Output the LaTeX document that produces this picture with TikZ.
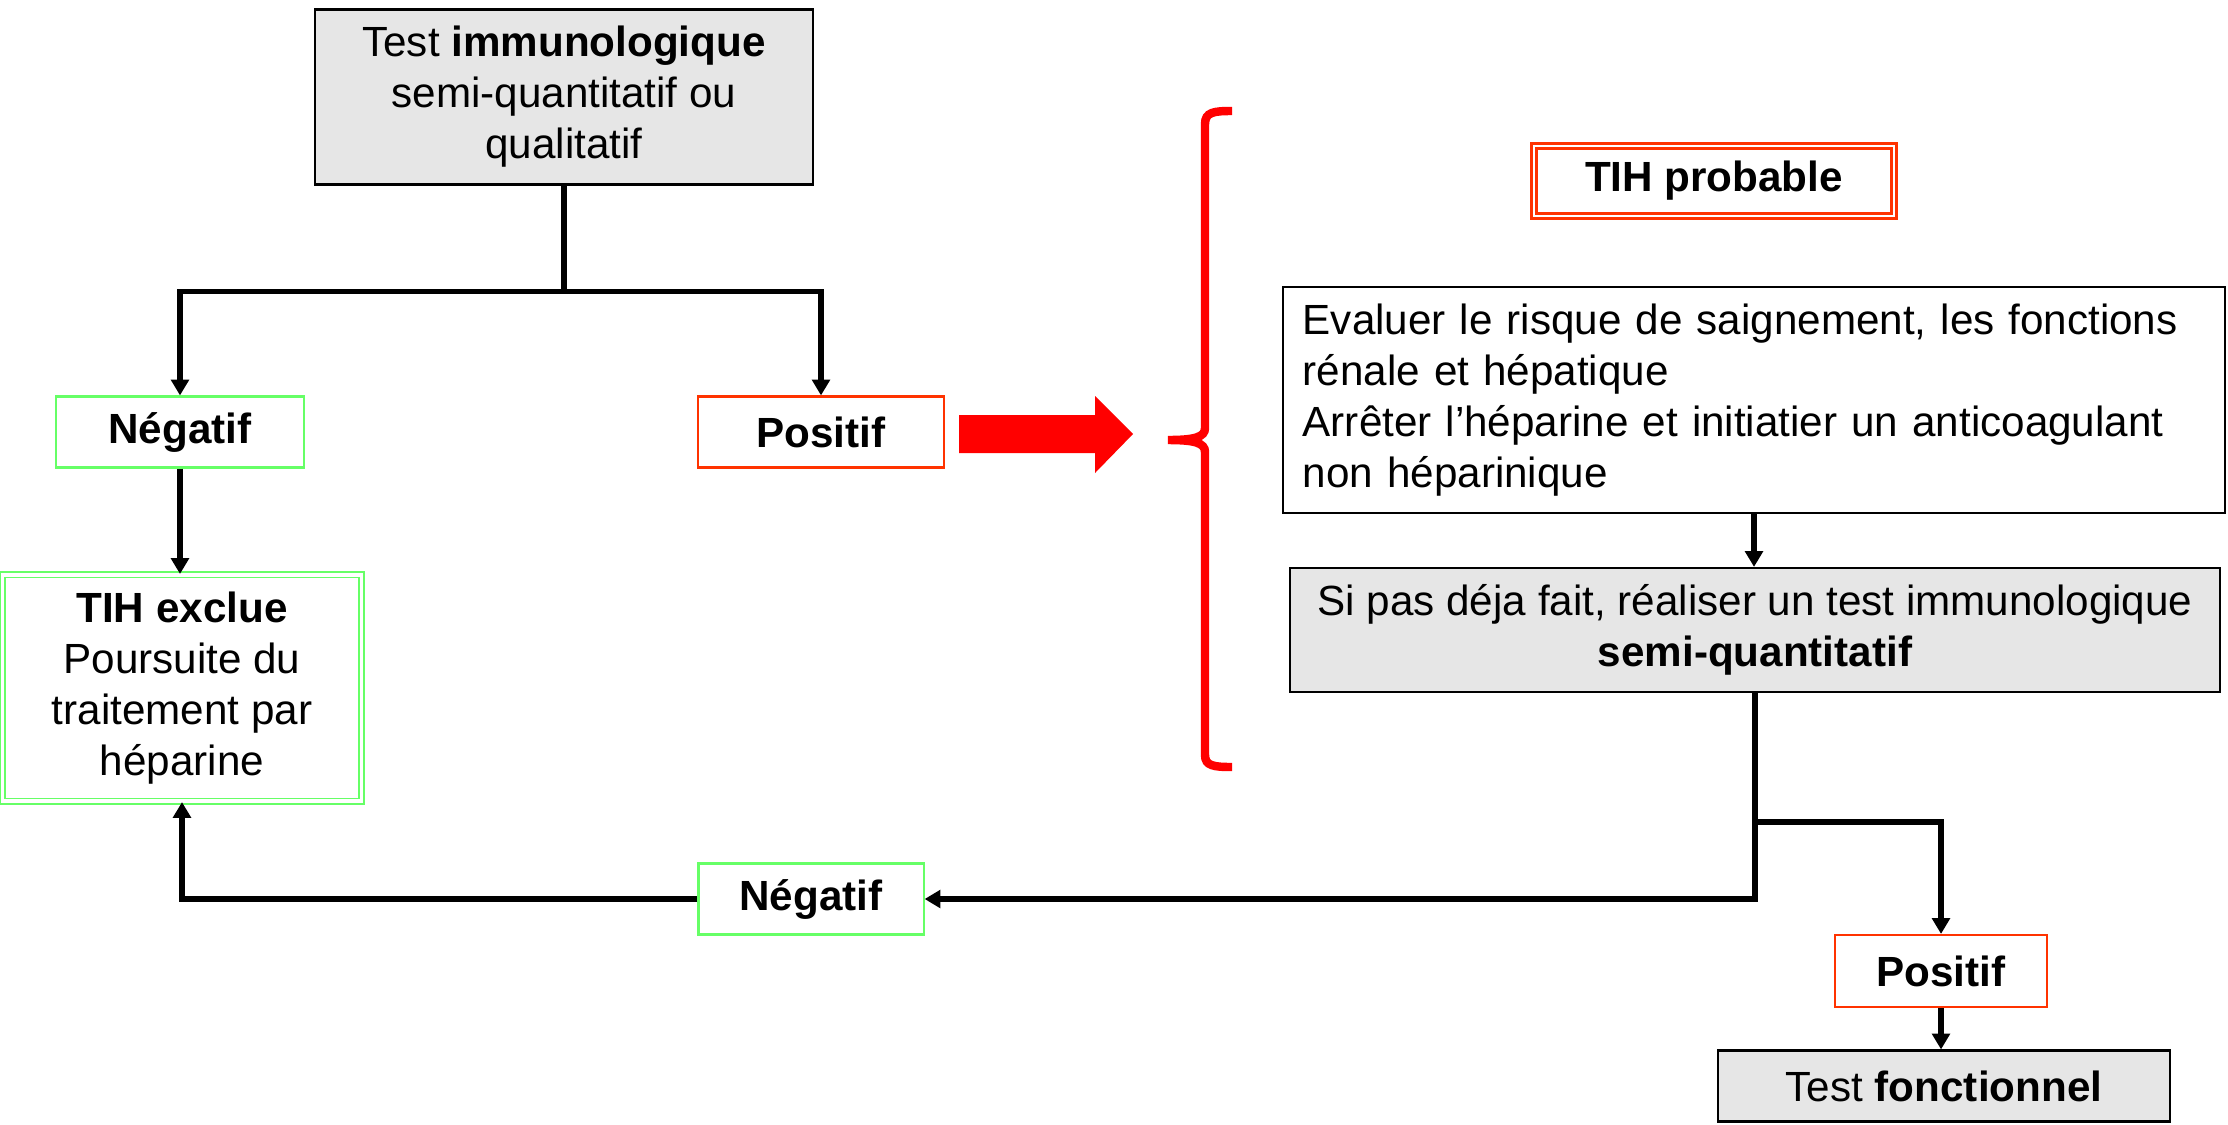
\documentclass[tikz,border=0pt]{standalone}
\usepackage{fontspec}
\setmainfont{Liberation Sans}
\usepackage{tikz}
\usetikzlibrary{calc,arrows.meta}

\definecolor{boxgrey}{HTML}{E6E6E6}
\definecolor{okgreen}{HTML}{66FF66}
\definecolor{warnred}{HTML}{FF3300}

\tikzset{
    box/.style={draw, line width=0.6pt, inner sep=0, align=center,
        font=\fontsize{12}{14.5}\selectfont},
    greybox/.style={box, fill=boxgrey},
    greenbox/.style={box, draw=okgreen},
    redbox/.style={box, draw=warnred},
    conn/.style={line width=1.5pt},
    arr/.style={conn, -{Triangle[width=5pt,length=4.5pt]}},
}

\begin{document}
\begin{tikzpicture}[x=0.01cm,y=-0.01cm]
    \useasboundingbox (0,0) rectangle (2228,1124);

    \node[greybox, minimum width=4.98cm, minimum height=1.75cm] (T) at (564,97)
        {Test \textbf{immunologique}\\semi-quantitatif ou\\qualitatif};
    \node[greenbox, minimum width=2.47cm, minimum height=0.71cm] (NA) at (180,432) {\textbf{Négatif}};
    \node[redbox, minimum width=2.45cm, minimum height=0.71cm] (PA) at (821,432) {\textbf{Positif}};
    \node[greenbox, double, line width=0.55pt, double distance=0.9pt,
        minimum width=3.58cm, minimum height=2.26cm] (EX) at (182,688)
        {\textbf{TIH exclue}\\Poursuite du\\traitement par\\héparine};

    \node[redbox, double, line width=0.8pt, double distance=0.7pt,
        minimum width=3.6cm, minimum height=0.7cm] (PR) at (1714,181) {\textbf{TIH probable}};
    \node[box, align=left, inner xsep=0.2cm, text width=9.02cm, minimum height=2.25cm] (EV) at (1754,400)
        {Evaluer le risque de saignement, les fonctions\\rénale et hépatique\\Arrêter l’héparine et initiatier un anticoagulant\\non héparinique};
    \node[greybox, minimum width=9.3cm, minimum height=1.24cm] (SI) at (1755,630)
        {Si pas déja fait, réaliser un test immunologique\\\textbf{semi-quantitatif}};
    \node[greenbox, minimum width=2.25cm, minimum height=0.71cm] (NB) at (811,899) {\textbf{Négatif}};
    \node[redbox, minimum width=2.12cm, minimum height=0.72cm] (PB) at (1941,971) {\textbf{Positif}};
    \node[greybox, minimum width=4.52cm, minimum height=0.71cm] (TF) at (1944,1086)
        {Test \textbf{fonctionnel}};

    \draw[conn] (T.south) -- ++(0,106) coordinate (J);
    \draw[arr] (J) -| (NA.north);
    \draw[arr] (J) -| (PA.north);
    \draw[arr] (NA.south) -- (NA.south |- EX.north);

    \fill[red] (959,415) -- (1095,415) -- (1095,396) -- (1133,434)
        -- (1095,473) -- (1095,453) -- (959,453) -- cycle;
    \draw[red, line width=2.4pt] (1232,111) .. controls (1214,111) and (1205,112) .. (1205,124)
        -- (1205,428) .. controls (1205,437) and (1195,440) .. (1168,440)
        .. controls (1195,440) and (1205,443) .. (1205,452)
        -- (1205,755) .. controls (1205,766) and (1214,767) .. (1232,767);

    \draw[arr] (EV.south) -- (EV.south |- SI.north);
    \draw[arr] (SI.south) |- (NB.east);
    \path (SI.south) ++(0,129) coordinate (K);
    \draw[arr] (K) -| (PB.north);
    \draw[arr] (NB.west) -| (EX.south);
    \draw[arr] (PB.south) -- (PB.south |- TF.north);
\end{tikzpicture}
\end{document}
